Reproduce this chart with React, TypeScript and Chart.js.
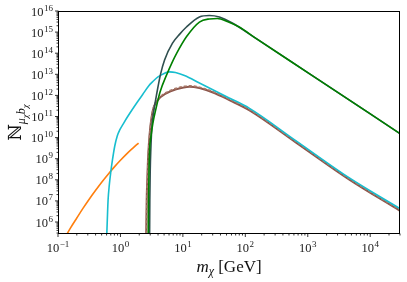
import { useEffect, useRef } from 'react';
import { Chart, registerables } from 'chart.js';

Chart.register(...registerables);

// ---- axis limits & ticks ----
const X_MIN = 0.1;
const X_MAX = 3e4;
const Y_MIN = 2.7e5;
const Y_MAX = 1e16;
const xDecades = [-1, 0, 1, 2, 3, 4];
const yDecades = [6, 7, 8, 9, 10, 11, 12, 13, 14, 15, 16];

// ---- series (mass in GeV, N) ----
const orangeMass = [0.126, 0.158, 0.2, 0.251, 0.316, 0.398, 0.501, 0.631, 0.794, 1.0, 1.26, 1.585, 1.95];
const orangeN = [1.6e5, 5.1e5, 1.54e6, 4.4e6, 1.2e7, 3.1e7, 7.7e7, 1.8e8, 4e8, 8.4e8, 1.7e9, 3.2e9, 5.5e9];

const cyanMass = [0.6, 0.616, 0.634, 0.663, 0.7, 0.745, 0.811, 0.889, 0.975, 1.129, 1.307, 1.82, 2.27, 2.83, 3.27, 3.75, 4.24, 6.1, 7.6, 10.6, 18.4, 55, 115, 650, 4570, 30000];
const cyanN = [1.4e5, 1.24e6, 1.1e7, 5.6e7, 2.3e8, 8.7e8, 4e9, 1.2e10, 2.3e10, 4.9e10, 1e11, 4.4e11, 1.1e12, 2.8e12, 4.4e12, 6.5e12, 8.4e12, 1.3e13, 1.22e13, 8.8e12, 3.9e12, 7.6e11, 2.5e11, 7e9, 1.26e8, 4.3e6];

const brownMass = [2.58, 2.63, 2.69, 2.76, 2.86, 3.01, 3.31, 3.98, 5.42, 7.8, 12.7, 18.4, 31.9, 55.4, 115, 650, 4570, 30000];
const brownN = [1.7e5, 1.1e7, 9.8e7, 8.7e8, 5.5e9, 3.2e10, 2e11, 6e11, 1.25e12, 1.95e12, 2.6e12, 2.24e12, 1.3e12, 6e11, 2e11, 5.8e9, 1.05e8, 3.4e6];

const brownDashMass = [2.6, 2.65, 2.71, 2.78, 2.88, 3.03, 3.33, 4.0, 5.42, 7.8, 12.7, 18.4, 31.9, 55.4, 115, 650, 4570, 30000];
const brownDashN = [1.7e5, 1.2e7, 1.1e8, 9.6e8, 6e9, 3.5e10, 2.2e11, 6.6e11, 1.38e12, 2.15e12, 2.85e12, 2.45e12, 1.42e12, 6.6e11, 2.2e11, 6.4e9, 1.15e8, 3.7e6];

const slateMass = [2.93, 2.955, 3.0, 3.064, 3.19, 3.44, 3.83, 4.39, 5.09, 6.82, 8.83, 11.4, 18.4, 26.5, 38.4, 61.8, 150, 1000, 30000];
const slateN = [1.7e5, 1.1e7, 2.9e8, 2.6e9, 3.2e10, 2e11, 1.3e12, 1.02e13, 4.8e13, 3e14, 7.8e14, 1.74e15, 5.2e15, 6.1e15, 5.2e15, 2.7e15, 4.9e14, 1.2e13, 1.55e10];

const greenMass = [2.79, 2.82, 2.87, 2.93, 3.1, 3.31, 3.66, 4.31, 5.58, 6.82, 7.9, 11.4, 18.4, 26.5, 35.6, 51.4, 79.8, 150, 1000, 30000];
const greenN = [1.7e5, 1.1e7, 2.9e8, 2.6e9, 1.3e10, 4.9e10, 2e11, 1.44e12, 1.05e13, 4e13, 9.6e13, 6e14, 3e15, 4.2e15, 4.4e15, 3.2e15, 1.74e15, 4.9e14, 1.2e13, 1.55e10];

const FONT = '"Liberation Serif", "DejaVu Serif", serif';

function pts(xs: number[], ys: number[]) {
  return xs.map((x, i) => ({ x, y: ys[i] }));
}

const SUP: Record<string, string> = { '-': '\u2212' };
function expText(e: number) {
  return String(e).split('').map((c) => SUP[c] ?? c).join('');
}

function drawPow(ctx: CanvasRenderingContext2D, e: number, x: number, y: number, align: 'center' | 'right') {
  ctx.font = `12.5px ${FONT}`;
  const w1 = ctx.measureText('10').width;
  const et = expText(e);
  ctx.font = `9px ${FONT}`;
  const w2 = ctx.measureText(et).width;
  const total = w1 + w2 + 0.5;
  const start = align === 'center' ? x - total / 2 : x - total;
  ctx.textAlign = 'left';
  ctx.textBaseline = 'alphabetic';
  ctx.font = `12.5px ${FONT}`;
  ctx.fillText('10', start, y);
  ctx.font = `9px ${FONT}`;
  ctx.fillText(et, start + w1 + 0.5, y - 5);
}

const framePlugin = {
  id: 'frame',
  afterDraw(chart: any) {
    const ctx: CanvasRenderingContext2D = chart.ctx;
    const { left, right, top, bottom } = chart.chartArea;
    const xs = chart.scales.x;
    const ys = chart.scales.y;
    ctx.save();
    ctx.fillStyle = '#000';
    ctx.strokeStyle = '#000';
    ctx.lineWidth = 1;
    const L = Math.round(left) + 0.5, R = Math.round(right) - 0.5, T = Math.round(top) + 0.5, B = Math.round(bottom) - 0.5;
    ctx.strokeRect(L, T, R - L, B - T);
    ctx.lineWidth = 0.8;
    for (const d of xDecades) {
      for (let k = 1; k <= 9; k++) {
        const v = k * Math.pow(10, d);
        if (v < X_MIN - 1e-12 || v > X_MAX) continue;
        const px = xs.getPixelForValue(v);
        const len = k === 1 ? 3.5 : 2;
        ctx.beginPath();
        ctx.moveTo(px, B);
        ctx.lineTo(px, B + len);
        ctx.stroke();
      }
    }
    for (let d = 5; d <= 16; d++) {
      for (let k = 1; k <= 9; k++) {
        const v = k * Math.pow(10, d);
        if (v < Y_MIN || v > Y_MAX * 1.0001) continue;
        const py = ys.getPixelForValue(v);
        const len = k === 1 ? 3.5 : 2;
        ctx.beginPath();
        ctx.moveTo(L, py);
        ctx.lineTo(L - len, py);
        ctx.stroke();
      }
    }
    ctx.fillStyle = '#222';
    for (const d of xDecades) {
      drawPow(ctx, d, xs.getPixelForValue(Math.pow(10, d)), 252, 'center');
    }
    for (const d of yDecades) {
      drawPow(ctx, d, 53, ys.getPixelForValue(Math.pow(10, d)) + 4.5, 'right');
    }
    // x title
    ctx.fillStyle = '#111';
    ctx.textAlign = 'left';
    ctx.font = `italic 17px ${FONT}`;
    const wm = ctx.measureText('m').width;
    ctx.font = `italic 12px ${FONT}`;
    const wc = ctx.measureText('\u03C7').width;
    ctx.font = `17px ${FONT}`;
    const wg = ctx.measureText(' [GeV]').width;
    const xt = (left + right) / 2 - (wm + wc + wg) / 2;
    const yb = 272;
    ctx.font = `italic 17px ${FONT}`;
    ctx.fillText('m', xt, yb);
    ctx.font = `italic 12px ${FONT}`;
    ctx.fillText('\u03C7', xt + wm, yb + 3);
    ctx.font = `17px ${FONT}`;
    ctx.fillText(' [GeV]', xt + wm + wc, yb);
    // y title
    ctx.save();
    ctx.translate(21, (top + bottom) / 2);
    ctx.rotate(-Math.PI / 2);
    const parts: [string, string, number][] = [
      ['\u2115', `18px ${FONT}`, 0],
      ['\u03BC', `italic 12px ${FONT}`, 4],
      ['\u03C7', `italic 9px ${FONT}`, 6.5],
      ['b', `italic 12px ${FONT}`, 4],
      ['\u03C7', `italic 9px ${FONT}`, 6.5],
    ];
    let tw = 0;
    for (const [t, f] of parts) { ctx.font = f; tw += ctx.measureText(t).width; }
    let cx = -tw / 2;
    for (const [t, f, dy] of parts) {
      ctx.font = f;
      ctx.fillText(t, cx, dy);
      cx += ctx.measureText(t).width;
    }
    ctx.restore();
    ctx.restore();
  },
};

export default function App() {
  const ref = useRef<HTMLCanvasElement | null>(null);
  useEffect(() => {
    document.body.style.margin = '0';
    const canvas = ref.current;
    if (!canvas) return;
    const ds = (label: string, xs: number[], ys: number[], color: string, order: number, width = 1.6, dash: number[] = []) => ({
      label,
      data: pts(xs, ys),
      borderColor: color,
      backgroundColor: color,
      borderWidth: width,
      borderDash: dash,
      pointRadius: 0,
      fill: false,
      cubicInterpolationMode: 'monotone' as const,
      order,
    });
    const chart = new Chart(canvas, {
      type: 'line',
      data: {
        datasets: [
          ds('orange', orangeMass, orangeN, '#ff7f0e', 5),
          ds('brown', brownMass, brownN, '#8c564b', 4, 2),
          ds('brownDash', brownDashMass, brownDashN, '#a87868', 3, 1.6, [3, 2]),
          ds('cyan', cyanMass, cyanN, '#17becf', 2),
          ds('slate', slateMass, slateN, '#2f4f4f', 1),
          ds('green', greenMass, greenN, '#008000', 0),
        ] as any,
      },
      options: {
        animation: false,
        responsive: false,
        layout: { padding: { left: 58, right: 7, top: 11, bottom: 48 } },
        plugins: { legend: { display: false }, tooltip: { enabled: false } },
        scales: {
          x: { type: 'logarithmic', min: X_MIN, max: X_MAX, display: false },
          y: { type: 'logarithmic', min: Y_MIN, max: Y_MAX, display: false },
        },
      },
      plugins: [framePlugin],
    });
    return () => chart.destroy();
  }, []);
  return (
    <div style={{ position: 'absolute', left: 0, top: 0, width: 407, height: 282, background: '#fff' }}>
      <canvas ref={ref} width={407} height={282} />
    </div>
  );
}
